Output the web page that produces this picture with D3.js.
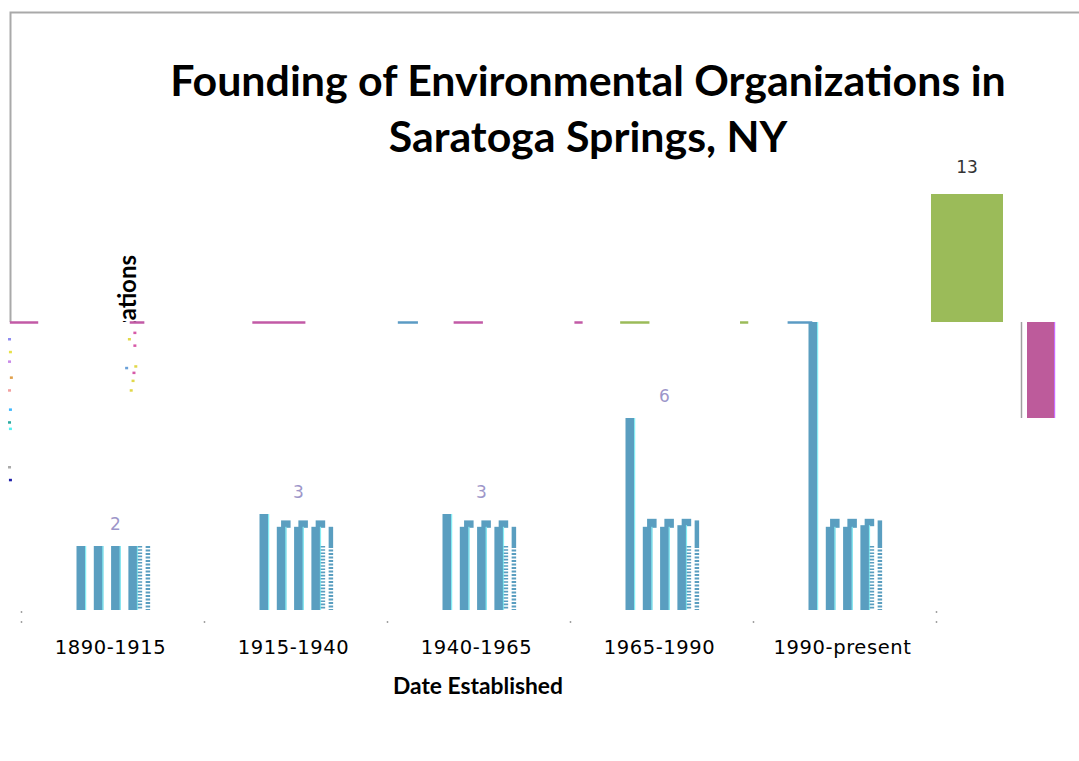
<!DOCTYPE html>
<html>
<head>
<meta charset="utf-8">
<script src="https://cdn.jsdelivr.net/npm/d3@7"></script>
<style>body{margin:0;background:#fff}</style>
</head>
<body>
<script>
// values
const categories = ['1890-1915', '1915-1940', '1940-1965', '1965-1990', '1990-present'];
const organizations = [2, 3, 3, 6, 13];
const echoA = [2, 2.6, 2.6, 2.6, 2.6];
const echoB = [2, 2.6, 2.6, 2.6, 2.6];
const echoC = [2, 2.6, 2.6, 2.65, 2.65];
const echoTab = [2, 2.8, 2.8, 2.85, 2.85];
const stripTop = [2, 2.6, 2.6, 2.8, 2.8];
const combTop = [2, 2, 2, 2, 2];
const clipValue = 9;
const spillGreen = [9, 13];
const spillPink = [6, 9];
const labelShown = ['2', '3', '3', '6', null];
// broken seam along the clip line: [from, to] as share of plot width
const seamPieces = [
  [-0.010, 0.021, '#c25aa6'], [0.121, 0.137, '#c25aa6'], [0.255, 0.313, '#c25aa6'],
  [0.414, 0.436, '#5b9bc4'], [0.475, 0.507, '#c25aa6'], [0.607, 0.616, '#c25aa6'],
  [0.657, 0.689, '#9bbb59'], [0.788, 0.797, '#9bbb59'], [0.840, 0.867, '#5b9bc4']
];
// leftover specks of the hidden axis: [share of width, value, colour]
const specks = [
  [-0.012, 8.5, '#8f8cf0'], [-0.011, 8.1, '#e7e14a'], [-0.012, 7.8, '#c98ae8'],
  [-0.010, 7.3, '#e0a04a'], [-0.012, 6.9, '#f2a1a1'], [-0.011, 6.3, '#3fb8ff'],
  [-0.012, 5.9, '#2aa9a0'], [-0.011, 5.7, '#55f0f0'], [-0.012, 4.5, '#aaaaaa'],
  [-0.011, 4.1, '#2222aa'],
  [0.119, 8.5, '#e1d84a'], [0.125, 8.7, '#d75aa8'], [0.125, 8.3, '#d75aa8'],
  [0.116, 7.6, '#6aa0d8'], [0.126, 7.65, '#e1d84a'], [0.124, 7.45, '#d75aa8'],
  [0.123, 7.2, '#e1d84a'], [0.121, 6.9, '#e1d84a']
];

const W = 1079, H = 761;
const svg = d3.select('body').append('svg').attr('width', W).attr('height', H)
  .style('font-family', 'Lato, "Open Sans", sans-serif');

const x = d3.scaleBand().domain(categories).range([19, 934]);
const y = d3.scaleLinear().domain([0, 13]).range([610, 194]);
const xs = d3.scaleLinear().domain([0, 1]).range(x.range());
const sub = d3.scaleBand().domain(['main', 'a', 'b', 'c', 'strip']).range([-34, 44.7]).paddingInner(0.45);
const bw = sub.bandwidth();
const cx = c => x(c) + x.bandwidth() / 2;
const blue = '#5a9ec0', fringe = '#86eef4';

// fit a text element to a pixel width
const fit = (sel, base, width) => {
  const w = sel.node().getComputedTextLength();
  sel.attr('font-size', base * width / w);
};

const defs = svg.append('defs');
defs.append('clipPath').attr('id', 'below')
  .append('rect').attr('x', 0).attr('y', y(clipValue)).attr('width', W).attr('height', H);
defs.append('clipPath').attr('id', 'above')
  .append('rect').attr('x', 0).attr('y', 0).attr('width', W).attr('height', y(clipValue));

// chart frame, only the top and left edges survive
svg.append('path')
  .attr('d', `M10.5,${y(clipValue)} V12.5 H${W}`)
  .attr('fill', 'none').attr('stroke', '#a9a9a9').attr('stroke-width', 2);

// title
const title = svg.append('text').attr('text-anchor', 'middle').attr('font-weight', 700)
  .attr('fill', '#000').attr('font-size', 38);
title.append('tspan').attr('x', 588).attr('y', 96).text('Founding of Environmental Organizations in');
title.append('tspan').attr('x', 588).attr('y', 152).text('Saratoga Springs, NY');
const tw = title.select('tspan').node().getComputedTextLength();
title.attr('font-size', 38 * 836 / tw);

const plot = svg.append('g').attr('clip-path', 'url(#below)');

function bar(g, left, v, w) {
  g.append('rect').attr('x', left).attr('y', y(v)).attr('width', w).attr('height', y(0) - y(v)).attr('fill', blue);
  g.append('rect').attr('x', left + w - 1).attr('y', y(v)).attr('width', 1.2).attr('height', y(0) - y(v)).attr('fill', fringe);
}

categories.forEach((c, i) => {
  const g = plot.append('g');
  const c0 = cx(c);
  bar(g, c0 + sub('main'), organizations[i], bw);
  [['a', echoA], ['b', echoB], ['c', echoC]].forEach(([k, arr]) => {
    const left = c0 + sub(k);
    if (echoTab[i] > arr[i]) {
      g.append('rect').attr('x', left + bw * 0.45).attr('y', y(echoTab[i]))
        .attr('width', bw).attr('height', y(arr[i]) - y(echoTab[i]) + 1).attr('fill', blue);
    }
    bar(g, left, arr[i], bw);
  });
  // comb on the right of the fourth bar
  const combX = c0 + sub('c') + bw + 2;
  g.append('line').attr('x1', combX).attr('x2', combX).attr('y1', y(combTop[i])).attr('y2', y(0))
    .attr('stroke', blue).attr('stroke-width', 4.5).attr('stroke-dasharray', '1.6,1.6');
  // thin strip
  const sx = c0 + sub('strip') + 2.2;
  if (stripTop[i] > combTop[i]) {
    g.append('line').attr('x1', sx).attr('x2', sx).attr('y1', y(stripTop[i])).attr('y2', y(combTop[i]))
      .attr('stroke', blue).attr('stroke-width', 4.5);
  }
  g.append('line').attr('x1', sx).attr('x2', sx).attr('y1', y(combTop[i])).attr('y2', y(0))
    .attr('stroke', blue).attr('stroke-width', 4.5).attr('stroke-dasharray', '2,1.5');
  if (labelShown[i]) {
    svg.append('text').attr('x', c0 + 5).attr('y', y(organizations[i]) - 16)
      .attr('text-anchor', 'middle').attr('font-family', '"DejaVu Sans", sans-serif')
      .attr('font-size', 17).attr('fill', '#7d74b8').attr('opacity', 0.75).text(labelShown[i]);
  }
});

// spilled pieces on the right
const xr = x.range()[1];
svg.append('rect').attr('x', xr - 3).attr('y', y(spillGreen[1])).attr('width', 72)
  .attr('height', y(spillGreen[0]) - y(spillGreen[1])).attr('fill', '#9bbb59');
svg.append('text').attr('x', xr + 33).attr('y', y(spillGreen[1]) - 21).attr('text-anchor', 'middle')
  .attr('font-family', '"DejaVu Sans", sans-serif').attr('font-size', 17).attr('fill', '#333')
  .text(spillGreen[1]);
svg.append('line').attr('x1', xr + 87.5).attr('x2', xr + 87.5).attr('y1', y(spillPink[1])).attr('y2', y(spillPink[0]))
  .attr('stroke', '#a0a0a0').attr('stroke-width', 1.5);
svg.append('rect').attr('x', xr + 93).attr('y', y(spillPink[1])).attr('width', 28)
  .attr('height', y(spillPink[0]) - y(spillPink[1])).attr('fill', '#bd5b9b');
svg.append('rect').attr('x', xr + 120).attr('y', y(spillPink[1])).attr('width', 1.2)
  .attr('height', y(spillPink[0]) - y(spillPink[1])).attr('fill', '#c86cff');

// y-axis title, only its tail is left above the seam
svg.append('g').attr('clip-path', 'url(#above)')
  .append('text')
  .attr('transform', `translate(136,${y(clipValue) - 67}) rotate(-90)`)
  .attr('text-anchor', 'end').attr('font-weight', 700).attr('font-size', 24).attr('fill', '#000')
  .text('Number of Organizations');

// seam pieces
seamPieces.forEach(([a, b, col]) => {
  svg.append('line').attr('x1', xs(a)).attr('x2', xs(b)).attr('y1', y(clipValue) + 0.5).attr('y2', y(clipValue) + 0.5)
    .attr('stroke', col).attr('stroke-width', 2.5);
});

specks.forEach(([a, v, col]) => {
  svg.append('rect').attr('x', xs(a)).attr('y', y(v)).attr('width', 3).attr('height', 2.5).attr('fill', col);
});

// tick remnants
const ticks = categories.map(c => x(c)).concat([xr]);
ticks.forEach((t, i) => {
  svg.append('circle').attr('cx', t + 2.5).attr('cy', 622).attr('r', 0.9).attr('fill', '#999');
  if (i === 0 || i === ticks.length - 1)
    svg.append('circle').attr('cx', t + 2.5).attr('cy', 612).attr('r', 0.9).attr('fill', '#999');
});

// category labels
svg.append('g').selectAll('text').data(categories).join('text')
  .attr('x', d => cx(d)).attr('y', 654).attr('text-anchor', 'middle')
  .attr('font-family', '"DejaVu Sans", sans-serif').attr('font-size', 19.5).attr('fill', '#000')
  .attr('letter-spacing', 0.6)
  .text(d => d);

const xt = svg.append('text').attr('x', 478).attr('y', 694).attr('text-anchor', 'middle')
  .attr('font-weight', 700).attr('font-size', 19).attr('fill', '#000').text('Date Established');
fit(xt, 19, 170);
</script>
</body>
</html>
